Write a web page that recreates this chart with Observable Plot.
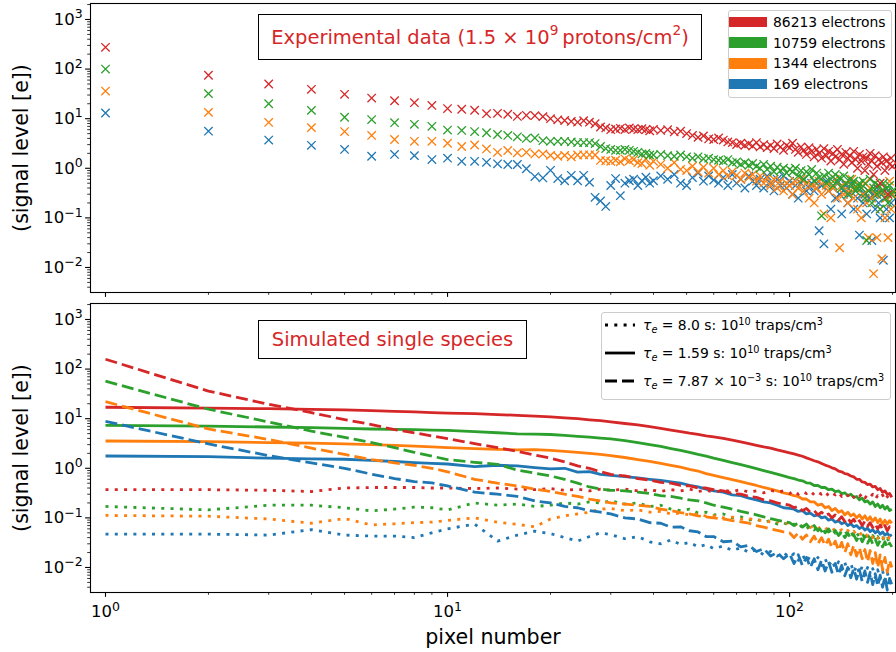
<!DOCTYPE html>
<html><head><meta charset="utf-8">
<script src="https://cdn.jsdelivr.net/npm/d3@7"></script>
<script src="https://cdn.jsdelivr.net/npm/@observablehq/plot@0.6"></script>
<style>
body{margin:0;background:#fff;}
#wrap{position:relative;width:896px;height:652px;overflow:hidden;background:#fff;font-family:"DejaVu Sans",sans-serif;color:#000;}
#top,#bottom{position:absolute;left:0;}
#top{top:0;} #bottom{top:300px;}
.sup{font-size:0.7em;position:relative;top:-0.55em;}
.sub{font-size:0.7em;position:relative;top:0.3em;font-style:italic;}
.ylab{position:absolute;font-size:20.6px;white-space:nowrap;transform:translate(-50%,-50%) rotate(-90deg);}
.xlab{position:absolute;font-size:20.6px;white-space:nowrap;transform:translateX(-50%);line-height:24px;}
.tbox{position:absolute;border:1.3px solid #000;box-sizing:border-box;display:flex;align-items:center;justify-content:center;color:#d62728;font-size:19.5px;white-space:nowrap;background:#fff;}
.leg{position:absolute;border:1px solid #cccccc;border-radius:3px;background:rgba(255,255,255,0.8);box-sizing:border-box;}
.row{position:absolute;font-size:13.9px;white-space:nowrap;line-height:18px;}
.patch{position:absolute;width:38px;height:10.5px;}
.handle{position:absolute;width:30px;height:6px;}
</style></head>
<body>
<div id="wrap">
  <div id="top"></div>
  <div id="bottom"></div>
  <div class="ylab" style="left:21px;top:148px">(signal level [e])</div>
  <div class="ylab" style="left:21px;top:448px">(signal level [e])</div>
  <div class="xlab" style="left:493px;top:625px">pixel number</div>
  <div class="tbox" style="left:258px;top:14px;width:444px;height:46px">Experimental data (1.5 × 10<span class="sup">9</span>&thinsp;protons/cm<span class="sup">2</span>)</div>
  <div class="tbox" style="left:258px;top:320px;width:269px;height:39px">Simulated single species</div>
  <div class="leg" id="leg1" style="left:728px;top:10px;width:164px;height:88px"></div>
  <div class="leg" id="leg2" style="left:601px;top:312px;width:290px;height:88px"></div>
</div>
<script>
// ---------- colours ----------
const RED = "#d62728", GREEN = "#2ca02c", ORANGE = "#ff7f0e", BLUE = "#1f77b4";

// ---------- axes ----------
const xDomain = [0.904, 204];
const yDomain = [0.00313, 2100];
const xMajor = [1, 10, 100];
const xMajorLabels = ["10^0", "10^1", "10^2"];
const xMinor = [2,3,4,5,6,7,8,9,20,30,40,50,60,70,80,90,200];
const yMajor = [0.01, 0.1, 1, 10, 100, 1000];
const yMajorLabels = ["10^-2", "10^-1", "10^0", "10^1", "10^2", "10^3"];
const yMinor = [0.004,0.005,0.006,0.007,0.008,0.009,0.02,0.03,0.04,0.05,0.06,0.07,0.08,0.09,
  0.2,0.3,0.4,0.5,0.6,0.7,0.8,0.9,2,3,4,5,6,7,8,9,20,30,40,50,60,70,80,90,
  200,300,400,500,600,700,800,900,2000];

// ---------- top panel: experimental data ----------
const expLabels = ["86213 electrons", "10759 electrons", "1344 electrons", "169 electrons"];
const scatterPixels = [1,2,3,4,5,6,7,8,9,10,11,12,13,14,15,16,17,18,19,20,21,22,23,24,25,26,27,28,29,30,
  31,32,33,34,35,36,37,38,39,40,42,44,46,48,50,52,54,56,58,60,62,64,66,68,70,72,74,76,78,80,
  82,84,86,88,90,92,94,96,98,100,102,104,106,108,110,112,114,116,118,120,122,124,126,128,130,
  132,134,136,138,140,142,144,146,148,150,152,154,156,158,160,162,164,166,168,170,172,174,176,178,180,
  182,184,186,188,190,192,194,196,198,200];
const expRed = [275,75,50,39,31,26,23,21,18.5,16,15.5,14.8,12.6,12.8,12.3,11.1,11.7,11.5,11,10,
  9.5,9.2,8.8,8.5,9.1,8.5,7.9,6.8,6.5,6.0,6.2,6.4,6.0,6.5,6.2,6.0,6.3,6.0,5.7,6.1,
  5.8,6.0,5.4,5.6,5.0,4.6,4.2,4.5,3.9,3.8,
  4.1,3.7,3.4,3.3,3.0,3.2,2.9,3.1,2.8,3.3,
  2.7,3.0,2.6,2.9,2.5,3.1,2.7,2.3,2.9,2.6,
  3.2,2.4,2.1,2.7,2.3,1.9,2.6,2.2,1.7,2.4,
  2.0,1.6,2.5,1.8,2.2,1.4,2.0,1.7,2.4,1.5,
  1.9,1.2,2.1,1.6,1.8,1.3,2.2,1.5,1.0,1.9,
  1.4,1.7,0.9,1.6,1.2,2.0,1.4,0.75,1.8,1.1,
  1.5,0.5,1.3,1.7,0.9,1.4,0.3,1.2,1.6,1.1];
const expGreen = [100,32,20,14.7,10.7,9.6,8.3,7.7,7.0,5.9,5.8,5.5,5.2,4.8,4.6,4.3,4.0,4.1,3.6,3.5,
  3.5,3.5,3.4,3.3,3.3,3.3,3.15,2.75,2.5,2.4,2.3,2.3,2.4,2.3,2.2,2.1,1.95,2.0,1.85,1.85,
  1.9,1.8,1.75,1.85,1.7,1.6,1.7,1.55,1.6,1.5,
  1.45,1.4,1.5,1.3,1.35,1.2,1.3,1.15,1.25,1.1,
  1.0,1.2,0.95,1.1,0.85,1.05,0.9,1.0,0.8,0.95,
  0.85,1.0,0.7,0.9,0.6,0.85,0.75,0.95,0.55,0.8,
  0.65,0.11,0.7,0.5,0.8,0.6,0.45,0.75,0.55,0.65,
  0.4,0.7,0.5,0.3,0.6,0.45,0.55,0.35,0.4,0.5,
  0.4,0.55,0.25,0.035,0.35,0.6,0.2,0.4,0.5,0.3,
  0.45,0.15,0.35,0.5,0.25,0.4,0.2,0.45,0.3,0.35];
const expOrange = [36,13.4,8.4,6.6,5.5,4.6,3.8,3.5,3.5,3.2,2.75,2.95,2.46,2.1,2.28,2.05,2.1,1.95,1.95,1.82,
  1.75,1.82,1.7,1.85,1.87,1.87,1.85,1.44,1.42,1.38,1.45,1.35,1.55,1.42,1.5,1.3,1.25,1.55,1.15,1.38,
  1.2,1.0,1.3,0.95,0.9,1.1,0.85,1.05,0.8,1.0,
  0.75,0.9,0.7,0.85,0.72,0.6,0.8,0.65,0.75,0.55,
  0.7,0.5,0.65,0.45,0.6,0.4,0.55,0.35,0.5,0.45,
  0.3,0.55,0.4,0.6,0.35,0.5,0.25,0.45,0.2,0.4,
  0.55,0.3,0.12,0.45,0.35,0.1,0.4,0.6,0.25,0.025,
  0.45,0.3,0.5,0.2,0.35,0.6,0.25,0.4,0.15,0.45,
  0.1,0.3,0.5,0.2,0.04,0.4,0.25,0.0075,0.3,0.04,
  0.45,0.15,0.015,0.35,0.1,0.25,0.04,0.55,0.15,0.3];
const expBlue = [13,5.6,3.7,2.9,2.4,1.75,1.9,1.8,1.5,1.6,1.38,1.38,1.32,1.23,1.19,1.19,0.98,0.68,0.64,0.91,
  0.62,0.56,0.72,0.56,0.72,0.52,0.26,0.22,0.17,0.45,0.62,0.28,0.5,0.56,0.6,0.45,0.56,0.66,0.5,0.56,
  0.7,0.6,0.75,0.5,0.45,0.65,0.8,0.55,0.7,0.58,
  0.5,0.65,0.45,0.75,0.5,0.6,0.4,0.7,0.55,0.45,
  0.6,0.4,0.7,0.5,0.35,0.6,0.45,0.7,0.4,0.55,
  0.3,0.45,0.25,0.5,0.6,0.35,0.4,0.5,0.35,0.5,
  0.055,0.45,0.03,0.55,0.35,0.15,0.4,0.25,0.5,0.3,
  0.12,0.35,0.45,0.2,0.3,0.5,0.15,0.35,0.25,0.045,
  0.4,0.2,0.3,0.12,0.35,0.25,0.035,0.3,0.15,0.4,
  0.2,0.1,0.3,0.014,0.25,0.15,0.35,0.1,0.2,0.3];

// ---------- bottom panel: simulations ----------
const simLabels = ["τe = 8.0 s: 10^10 traps/cm^3", "τe = 1.59 s: 10^10 traps/cm^3", "τe = 7.87 × 10^-3 s: 10^10 traps/cm^3"];
const linePixels = [1,2,3,4,5,6,7,8,9,10,12,14,16,18,20,22,24,26,28,30,33,36,39,42,45,48,51,54,57,60,
  64,68,72,76,80,84,88,92,96,100,103,106,109,112,115,118,121,124,127,130,133,136,139,142,145,148,151,154,157,160,
  163,166,169,172,175,178,181,184,187,190,193,196,199];
// solid: tau = 1.59 s
const redSolid = [17.0,16.4,15.9,15.4,15.0,14.5,14.1,13.7,13.3,13.0,
  12.6,12.1,11.7,11.3,10.9,10.4,10.0,9.5,9.1,8.6,
  8.0,7.5,6.9,6.4,5.9,5.5,5.1,4.8,4.5,4.3,
  4.0,3.7,3.4,3.15,2.9,2.7,2.55,2.35,2.2,2.05,
  1.95,1.85,1.75,1.62,1.52,1.42,1.35,1.25,1.16,1.1,
  1.02,0.97,0.88,0.85,0.78,0.76,0.7,0.67,0.6,0.6,
  0.53,0.52,0.47,0.48,0.42,0.43,0.37,0.39,0.33,0.35,
  0.3,0.31,0.26];
const greenSolid = [7.35,7.1,6.8,6.6,6.4,6.2,6.1,6.0,5.9,5.8,
  5.5,5.2,4.95,4.9,4.8,4.6,4.4,4.25,4.05,3.9,
  3.6,3.3,3.0,2.75,2.5,2.3,2.1,1.9,1.75,1.6,
  1.45,1.3,1.18,1.08,0.98,0.9,0.83,0.76,0.7,0.65,
  0.62,0.58,0.56,0.51,0.5,0.45,0.45,0.41,0.41,0.37,
  0.38,0.34,0.35,0.31,0.32,0.28,0.3,0.26,0.27,0.23,
  0.25,0.21,0.22,0.19,0.21,0.17,0.19,0.16,0.18,0.15,
  0.17,0.14,0.15];
const orangeSolid = [3.55,3.45,3.3,3.2,3.1,3.0,2.9,2.8,2.7,2.62,
  2.5,2.4,2.35,2.38,2.3,2.2,2.1,2.0,1.9,1.8,
  1.65,1.5,1.38,1.25,1.15,1.05,0.95,0.88,0.78,0.72,
  0.65,0.59,0.54,0.49,0.45,0.41,0.38,0.35,0.32,0.3,
  0.28,0.27,0.24,0.24,0.21,0.21,0.18,0.19,0.16,0.17,
  0.14,0.155,0.13,0.14,0.115,0.13,0.11,0.12,0.1,0.115,
  0.095,0.11,0.09,0.105,0.085,0.1,0.08,0.095,0.075,0.09,
  0.075,0.088,0.078];
const blueSolid = [1.77,1.72,1.6,1.55,1.52,1.45,1.37,1.3,1.26,1.22,
  1.08,1.15,1.12,1.03,0.97,1.0,0.84,0.86,0.75,0.72,
  0.68,0.64,0.6,0.57,0.53,0.5,0.45,0.42,0.38,0.35,
  0.33,0.29,0.28,0.25,0.23,0.21,0.2,0.18,0.16,0.155,
  0.15,0.135,0.14,0.12,0.125,0.11,0.115,0.1,0.105,0.09,
  0.095,0.082,0.088,0.076,0.082,0.07,0.076,0.066,0.07,0.061,
  0.066,0.057,0.062,0.053,0.058,0.05,0.055,0.047,0.052,0.045,
  0.049,0.043,0.046];
// dashed: tau = 7.87e-3 s
const redDashed = [158,36,19.5,13.2,9.6,7.6,6.0,5.2,4.5,3.95,
  3.15,2.6,2.2,1.85,1.6,1.35,1.12,1.0,0.85,0.75,
  0.7,0.62,0.58,0.52,0.5,0.45,0.44,0.4,0.4,0.37,
  0.35,0.31,0.3,0.27,0.26,0.23,0.22,0.2,0.19,0.18,
  0.16,0.17,0.14,0.155,0.13,0.14,0.115,0.13,0.11,0.12,
  0.1,0.115,0.09,0.105,0.085,0.1,0.08,0.094,0.075,0.088,
  0.07,0.085,0.068,0.08,0.064,0.076,0.06,0.072,0.058,0.07,
  0.055,0.066,0.06];
const greenDashed = [57,15.5,8.6,5.6,4.2,3.3,2.6,2.1,1.75,1.5,
  1.32,1.2,0.92,0.8,0.7,0.6,0.5,0.42,0.38,0.36,
  0.35,0.33,0.31,0.28,0.27,0.25,0.23,0.22,0.2,0.18,
  0.165,0.15,0.135,0.125,0.115,0.105,0.097,0.09,0.085,0.08,
  0.07,0.08,0.065,0.075,0.06,0.07,0.055,0.065,0.05,0.06,
  0.047,0.056,0.044,0.052,0.04,0.049,0.038,0.046,0.035,0.044,
  0.033,0.042,0.031,0.039,0.03,0.037,0.028,0.035,0.026,0.033,
  0.025,0.031,0.026];
const orangeDashed = [22,6.2,3.8,2.55,1.9,1.5,1.28,1.15,1.0,0.85,
  0.6,0.5,0.44,0.38,0.34,0.3,0.27,0.24,0.22,0.2,
  0.19,0.18,0.17,0.15,0.14,0.128,0.12,0.11,0.105,0.1,
  0.095,0.088,0.083,0.078,0.07,0.065,0.06,0.056,0.052,0.05,
  0.04,0.05,0.037,0.045,0.033,0.043,0.03,0.04,0.028,0.037,
  0.025,0.034,0.022,0.032,0.02,0.03,0.018,0.028,0.017,0.025,
  0.015,0.023,0.013,0.022,0.012,0.02,0.01,0.018,0.009,0.016,
  0.008,0.014,0.01];
const blueDashed = [8.85,3.1,1.8,1.28,1.0,0.76,0.62,0.54,0.51,0.44,
  0.33,0.3,0.27,0.22,0.2,0.17,0.16,0.14,0.13,0.12,
  0.1,0.095,0.08,0.078,0.065,0.066,0.055,0.052,0.042,0.042,
  0.033,0.034,0.026,0.028,0.021,0.024,0.017,0.02,0.015,0.019,
  0.012,0.018,0.011,0.016,0.01,0.015,0.009,0.014,0.0085,0.013,
  0.008,0.012,0.0072,0.011,0.0068,0.01,0.0062,0.0095,0.0058,0.009,
  0.0052,0.0085,0.005,0.008,0.0045,0.0075,0.0042,0.007,0.004,0.0065,
  0.0035,0.006,0.0045];
// dotted: tau = 8.0 s
const redDotted = [0.37,0.37,0.36,0.34,0.4,0.41,0.41,0.41,0.4,0.4,
  0.39,0.4,0.38,0.37,0.39,0.36,0.38,0.35,0.38,0.36,
  0.38,0.35,0.37,0.34,0.37,0.35,0.38,0.34,0.36,0.33,
  0.36,0.34,0.37,0.33,0.35,0.32,0.36,0.33,0.35,0.31,
  0.35,0.3,0.34,0.31,0.35,0.29,0.33,0.3,0.34,0.28,
  0.32,0.29,0.33,0.27,0.31,0.28,0.32,0.26,0.3,0.27,
  0.31,0.25,0.29,0.26,0.3,0.24,0.28,0.25,0.29,0.23,
  0.27,0.24,0.26];
const greenDotted = [0.17,0.145,0.18,0.18,0.16,0.138,0.15,0.165,0.16,0.145,
  0.2,0.18,0.19,0.17,0.18,0.2,0.19,0.21,0.2,0.22,
  0.19,0.2,0.17,0.18,0.15,0.14,0.15,0.125,0.13,0.115,
  0.12,0.1,0.105,0.09,0.095,0.082,0.088,0.075,0.08,0.07,
  0.075,0.062,0.072,0.06,0.068,0.057,0.066,0.054,0.062,0.052,
  0.06,0.049,0.057,0.047,0.055,0.045,0.052,0.043,0.05,0.041,
  0.048,0.039,0.046,0.037,0.044,0.036,0.042,0.034,0.04,0.033,
  0.039,0.032,0.038];
const orangeDotted = [0.112,0.108,0.095,0.078,0.097,0.072,0.076,0.08,0.082,0.089,
  0.1,0.082,0.074,0.066,0.095,0.11,0.12,0.13,0.15,0.155,
  0.14,0.145,0.13,0.135,0.12,0.125,0.115,0.12,0.108,0.11,
  0.1,0.104,0.094,0.097,0.088,0.091,0.082,0.085,0.077,0.079,
  0.07,0.077,0.067,0.073,0.064,0.07,0.061,0.067,0.058,0.064,
  0.055,0.061,0.053,0.058,0.05,0.056,0.048,0.054,0.046,0.052,
  0.044,0.05,0.042,0.048,0.04,0.046,0.039,0.044,0.037,0.043,
  0.036,0.041,0.038];
const blueDotted = [0.047,0.047,0.045,0.058,0.045,0.043,0.043,0.04,0.05,0.06,
  0.075,0.034,0.045,0.054,0.048,0.04,0.034,0.042,0.05,0.046,
  0.038,0.042,0.033,0.03,0.036,0.029,0.032,0.026,0.029,0.024,
  0.027,0.022,0.025,0.02,0.023,0.018,0.021,0.017,0.02,0.016,
  0.019,0.014,0.018,0.013,0.017,0.012,0.016,0.011,0.015,0.0105,
  0.014,0.0098,0.013,0.009,0.0125,0.0085,0.012,0.008,0.011,0.0075,
  0.0105,0.007,0.01,0.0066,0.0095,0.0062,0.009,0.0058,0.0085,0.0055,
  0.008,0.005,0.007];

// ---------- styles ----------
const DASH = "12,5", DOT = "3,6.3";

function axisMarks(xLabels) {
  return [
    Plot.frame({stroke: "black", strokeWidth: 1.1}),
    Plot.axisY({ticks: yMajor, tickSize: 4.9, tickPadding: 3, label: null, fontSize: 16.5, strokeWidth: 1.1,
      tickFormat: d => yMajorLabels[yMajor.indexOf(d)]}),
    Plot.axisY({ticks: yMinor, tickSize: 2.8, label: null, strokeWidth: 0.8, tickFormat: () => ""}),
    Plot.axisX({ticks: xMajor, tickSize: 4.9, tickPadding: 8, label: null, fontSize: 16.5, strokeWidth: 1.1,
      tickFormat: d => xLabels ? xMajorLabels[xMajor.indexOf(d)] : ""}),
    Plot.axisX({ticks: xMinor, tickSize: 2.8, label: null, strokeWidth: 0.8, tickFormat: () => ""})
  ];
}

function supify(svg) {
  d3.select(svg).selectAll("text").each(function() {
    const t = this.textContent;
    const i = t.indexOf("^");
    if (i < 0) return;
    const base = t.slice(0, i), ex = t.slice(i + 1).replace("-", "\u2212");
    this.textContent = base;
    d3.select(this).append("tspan").attr("dy", -6.5).attr("font-size", 12.5).text(ex);
  });
}

const common = {
  width: 896, marginLeft: 90, marginRight: 1, marginTop: 3,
  x: {type: "log", domain: xDomain, label: null},
  y: {type: "log", domain: yDomain, label: null},
  style: {fontFamily: "DejaVu Sans", fontSize: "16.5px", color: "black", background: "transparent", overflow: "visible"}
};

// top
const scatterSeries = [
  {values: expBlue, color: BLUE},
  {values: expOrange, color: ORANGE},
  {values: expGreen, color: GREEN},
  {values: expRed, color: RED}
];
const topPlot = Plot.plot({
  ...common, height: 300, marginBottom: 8,
  marks: [
    ...axisMarks(false),
    ...scatterSeries.map(s => Plot.dot(scatterPixels.map((p, i) => ({p, v: s.values[i]})),
      {x: "p", y: "v", symbol: "times", r: 3.9, stroke: s.color, fill: "none", strokeWidth: 1.3}))
  ]
});
document.getElementById("top").appendChild(topPlot);
supify(topPlot);

// bottom
const lineSeries = [
  {values: redSolid, color: RED, dash: null},
  {values: greenSolid, color: GREEN, dash: null},
  {values: orangeSolid, color: ORANGE, dash: null},
  {values: blueSolid, color: BLUE, dash: null},
  {values: redDotted, color: RED, dash: DOT},
  {values: greenDotted, color: GREEN, dash: DOT},
  {values: orangeDotted, color: ORANGE, dash: DOT},
  {values: blueDotted, color: BLUE, dash: DOT},
  {values: redDashed, color: RED, dash: DASH},
  {values: greenDashed, color: GREEN, dash: DASH},
  {values: orangeDashed, color: ORANGE, dash: DASH},
  {values: blueDashed, color: BLUE, dash: DASH}
];
const bottomPlot = Plot.plot({
  ...common, height: 352, marginBottom: 60,
  marks: [
    ...lineSeries.map(s => Plot.line(linePixels.map((p, i) => ({p, v: s.values[i]})),
      {x: "p", y: "v", stroke: s.color, strokeWidth: 2.8, strokeDasharray: s.dash ?? undefined,
       strokeLinecap: "butt", strokeLinejoin: "round", clip: true})),
    ...axisMarks(true)
  ]
});
document.getElementById("bottom").appendChild(bottomPlot);
supify(bottomPlot);

// ---------- legends ----------
const expColors = [RED, GREEN, ORANGE, BLUE];
const leg1Rows = [12, 32.5, 53.3, 74];
const leg1 = document.getElementById("leg1");
expLabels.forEach((lab, i) => {
  const patch = document.createElement("div");
  patch.className = "patch";
  patch.style.left = "0px";
  patch.style.top = (leg1Rows[i] - 5.25 - 1) + "px";
  patch.style.background = expColors[i];
  leg1.appendChild(patch);
  const txt = document.createElement("div");
  txt.className = "row";
  txt.style.left = "44px";
  txt.style.top = (leg1Rows[i] - 9 - 1) + "px";
  txt.textContent = lab;
  leg1.appendChild(txt);
});

function mathHTML(s) {
  return s.replace(/^τe/, '<i>τ</i><span class="sub">e</span>')
          .replace(/\^(-?\d+)/g, (m, e) => '<span class="sup">' + e.replace("-", "\u2212") + '</span>');
}
const leg2Rows = [13, 41, 69];
const leg2Dash = [DOT, null, DASH];
const leg2 = document.getElementById("leg2");
simLabels.forEach((lab, i) => {
  const svg = d3.create("svg").attr("class", "handle").attr("width", 30).attr("height", 6)
    .style("left", "3px").style("top", (leg2Rows[i] - 3 - 1) + "px");
  svg.append("line").attr("x1", 0).attr("x2", 30).attr("y1", 3).attr("y2", 3)
    .attr("stroke", "black").attr("stroke-width", 2.8)
    .attr("stroke-dasharray", leg2Dash[i]);
  leg2.appendChild(svg.node());
  const txt = document.createElement("div");
  txt.className = "row";
  txt.style.left = "41px";
  txt.style.top = (leg2Rows[i] - 9 - 1) + "px";
  txt.innerHTML = mathHTML(lab);
  leg2.appendChild(txt);
});
</script>
</body></html>
